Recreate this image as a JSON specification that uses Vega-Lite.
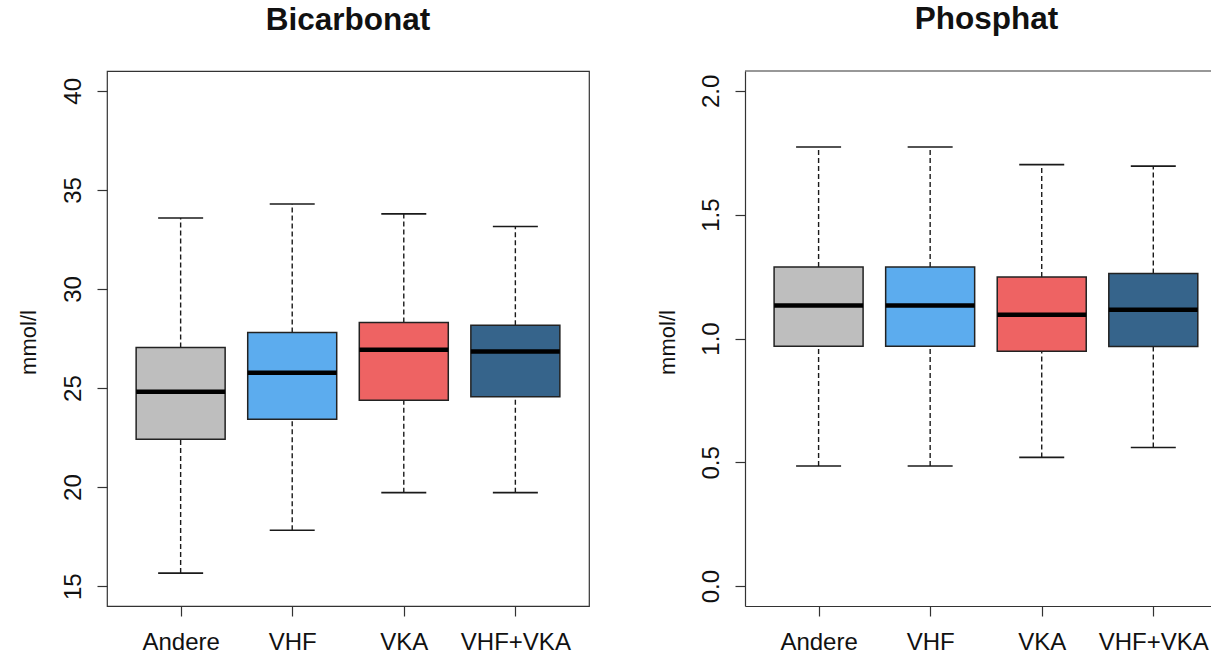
{
  "$schema": "https://vega.github.io/schema/vega-lite/v6.json",
  "background": "white",
  "padding": {"left": 16, "top": 3, "right": 0, "bottom": 0},
  "spacing": 66,
  "config": {
    "font": "Liberation Sans",
    "view": {"stroke": "#333", "strokeWidth": 1.2},
    "tick": {"opacity": 1},
    "axis": {
      "grid": false,
      "domain": false,
      "domainColor": "#333",
      "domainWidth": 1.2,
      "tickColor": "#333",
      "tickWidth": 1.2,
      "tickSize": 10,
      "labelFont": "Liberation Sans",
      "labelFontSize": 24,
      "labelColor": "#111",
      "titleFont": "Liberation Sans",
      "titleFontSize": 22,
      "titleFontWeight": "normal",
      "titleColor": "#111"
    },
    "title": {"font": "Liberation Sans", "fontSize": 31.5, "fontWeight": "bold", "color": "#111", "anchor": "middle", "baseline": "alphabetic", "offset": 35}
  },
  "hconcat": [
    {
      "title": {"text": "Bicarbonat"},
      "width": 482,
      "height": 535,
      "data": {"values": [
        {"gruppe": "Andere", "lo": 15.66, "q1": 22.41, "med": 24.81, "q3": 27.05, "hi": 33.58},
        {"gruppe": "VHF", "lo": 17.82, "q1": 23.42, "med": 25.77, "q3": 27.80, "hi": 34.29},
        {"gruppe": "VKA", "lo": 19.72, "q1": 24.38, "med": 26.93, "q3": 28.31, "hi": 33.79},
        {"gruppe": "VHF+VKA", "lo": 19.72, "q1": 24.56, "med": 26.84, "q3": 28.17, "hi": 33.15}
      ]},
      "encoding": {
        "x": {
          "field": "gruppe", "type": "nominal",
          "sort": ["Andere", "VHF", "VKA", "VHF+VKA"],
          "scale": {"type": "point", "padding": 0.66},
          "axis": {"title": null, "labelAngle": 0, "labelBaseline": "alphabetic", "labelPadding": 33}
        }
      },
      "layer": [
        {
          "mark": {"type": "rule", "strokeDash": [5, 3], "color": "#1a1a1a", "strokeWidth": 1.4},
          "encoding": {
            "y": {
              "field": "q3", "type": "quantitative",
              "scale": {"domain": [14, 41], "nice": false, "zero": false},
              "axis": {"title": "mmol/l", "values": [15, 20, 25, 30, 35, 40], "labelAngle": 270, "labelAlign": "center", "labelBaseline": "alphabetic", "labelPadding": 17, "titleAngle": 270, "titleBaseline": "alphabetic", "titleAlign": "center", "titleX": -72, "titleY": 271}
            },
            "y2": {"field": "hi"}
          }
        },
        {
          "mark": {"type": "rule", "strokeDash": [5, 3], "color": "#1a1a1a", "strokeWidth": 1.4},
          "encoding": {"y": {"field": "lo", "type": "quantitative"}, "y2": {"field": "q1"}}
        },
        {
          "mark": {"type": "tick", "orient": "horizontal", "size": 45, "thickness": 1.6, "color": "#1a1a1a", "opacity": 1},
          "encoding": {"y": {"field": "hi", "type": "quantitative"}}
        },
        {
          "mark": {"type": "tick", "orient": "horizontal", "size": 45, "thickness": 1.6, "color": "#1a1a1a", "opacity": 1},
          "encoding": {"y": {"field": "lo", "type": "quantitative"}}
        },
        {
          "mark": {"type": "bar", "size": 89, "stroke": "#222", "strokeWidth": 1.5, "opacity": 1},
          "encoding": {
            "y": {"field": "q1", "type": "quantitative"},
            "y2": {"field": "q3"},
            "color": {"field": "gruppe", "type": "nominal", "legend": null,
              "scale": {"domain": ["Andere", "VHF", "VKA", "VHF+VKA"], "range": ["#BEBEBE", "#5CACEE", "#EE6363", "#36648B"]}}
          }
        },
        {
          "mark": {"type": "tick", "orient": "horizontal", "size": 89, "thickness": 4.5, "color": "#000", "opacity": 1},
          "encoding": {"y": {"field": "med", "type": "quantitative"}}
        }
      ]
    },
    {
      "title": {"text": "Phosphat", "dx": 8.5},
      "width": 466,
      "height": 535,
      "view": {"stroke": null},
      "data": {"values": [
        {"gruppe": "Andere", "lo": 0.485, "q1": 0.969, "med": 1.133, "q3": 1.289, "hi": 1.773},
        {"gruppe": "VHF", "lo": 0.485, "q1": 0.969, "med": 1.133, "q3": 1.289, "hi": 1.773},
        {"gruppe": "VKA", "lo": 0.520, "q1": 0.949, "med": 1.096, "q3": 1.248, "hi": 1.702},
        {"gruppe": "VHF+VKA", "lo": 0.560, "q1": 0.968, "med": 1.116, "q3": 1.262, "hi": 1.696}
      ]},
      "layer": [
        {
          "mark": {"type": "rule", "strokeDash": [5, 3], "color": "#1a1a1a", "strokeWidth": 1.4},
          "encoding": {
            "x": {
              "field": "gruppe", "type": "nominal",
              "sort": ["Andere", "VHF", "VKA", "VHF+VKA"],
              "scale": {"type": "point", "padding": 0.5884, "align": 0.5605},
              "axis": {"title": null, "domain": true, "labelAngle": 0, "labelBaseline": "alphabetic", "labelPadding": 33}
            },
            "y": {
              "field": "q3", "type": "quantitative",
              "scale": {"domain": [-0.08, 2.08], "nice": false, "zero": false},
              "axis": {"title": "mmol/l", "domain": true, "values": [0, 0.5, 1, 1.5, 2], "format": ".1f", "labelAngle": 270, "labelAlign": "center", "labelBaseline": "alphabetic", "labelPadding": 17, "titleAngle": 270, "titleBaseline": "alphabetic", "titleAlign": "center", "titleX": -71, "titleY": 271}
            },
            "y2": {"field": "hi"}
          }
        },
        {
          "mark": {"type": "rule", "strokeDash": [5, 3], "color": "#1a1a1a", "strokeWidth": 1.4},
          "encoding": {
            "x": {"field": "gruppe", "type": "nominal", "sort": ["Andere", "VHF", "VKA", "VHF+VKA"]},
            "y": {"field": "lo", "type": "quantitative"}, "y2": {"field": "q1"}
          }
        },
        {
          "mark": {"type": "tick", "orient": "horizontal", "size": 45, "thickness": 1.6, "color": "#1a1a1a", "opacity": 1},
          "encoding": {
            "x": {"field": "gruppe", "type": "nominal", "sort": ["Andere", "VHF", "VKA", "VHF+VKA"]},
            "y": {"field": "hi", "type": "quantitative"}
          }
        },
        {
          "mark": {"type": "tick", "orient": "horizontal", "size": 45, "thickness": 1.6, "color": "#1a1a1a", "opacity": 1},
          "encoding": {
            "x": {"field": "gruppe", "type": "nominal", "sort": ["Andere", "VHF", "VKA", "VHF+VKA"]},
            "y": {"field": "lo", "type": "quantitative"}
          }
        },
        {
          "mark": {"type": "bar", "size": 89, "stroke": "#222", "strokeWidth": 1.5, "opacity": 1},
          "encoding": {
            "x": {"field": "gruppe", "type": "nominal", "sort": ["Andere", "VHF", "VKA", "VHF+VKA"]},
            "y": {"field": "q1", "type": "quantitative"},
            "y2": {"field": "q3"},
            "color": {"field": "gruppe", "type": "nominal", "legend": null,
              "scale": {"domain": ["Andere", "VHF", "VKA", "VHF+VKA"], "range": ["#BEBEBE", "#5CACEE", "#EE6363", "#36648B"]}}
          }
        },
        {
          "mark": {"type": "tick", "orient": "horizontal", "size": 89, "thickness": 4.5, "color": "#000", "opacity": 1},
          "encoding": {
            "x": {"field": "gruppe", "type": "nominal", "sort": ["Andere", "VHF", "VKA", "VHF+VKA"]},
            "y": {"field": "med", "type": "quantitative"}
          }
        },
        {
          "data": {"values": [{}]},
          "mark": {"type": "rule", "color": "#333", "strokeWidth": 1.2},
          "encoding": {"y": {"datum": 2.08, "type": "quantitative"}}
        }
      ]
    }
  ]
}
